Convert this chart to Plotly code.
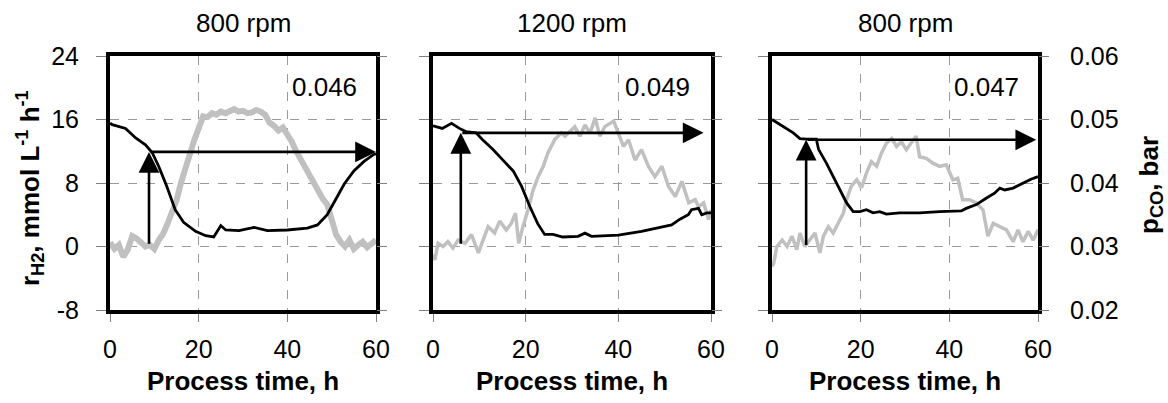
import plotly.graph_objects as go

# ---------------- data ----------------
panel_titles = ["800 rpm", "1200 rpm", "800 rpm"]
kla_labels = ["0.046", "0.049", "0.047"]

# grey: r_H2 (left axis, mmol L-1 h-1)
t1_rh2 = list(range(0, 61))
rh2_1 = [0.5, -0.3, 0.2, -1.3, -0.4, 1.3, 1.0, 0.6, 0.0, 0.2, -0.3, 0.8, 1.6, 2.9, 4.2,
         5.8, 8.0, 10.1, 11.6, 13.4, 15.2, 16.4, 16.3, 16.8, 16.6, 17.0, 16.8, 17.1, 17.3,
         17.0, 17.1, 16.8, 16.9, 17.2, 17.0, 16.6, 15.6, 15.2, 14.6, 15.0, 14.2, 13.2, 12.0,
         11.0, 10.0, 9.0, 7.8, 7.0, 6.0, 5.3, 3.0, 1.5, 0.6, 0.0, 0.8, -0.3, 0.2, 0.6, -0.1,
         0.3, 0.8]

t2_rh2 = [0, 0.4, 1.1, 2.2, 3.2, 4.3, 5.4, 6.9, 8.3, 9.8, 10.8, 11.9, 13.3, 14.4, 15.8,
          16.9, 17.8, 18.5, 19.4, 20.5, 21.6, 22.7, 23.8, 24.8, 26.3, 27.7, 28.5, 29.5, 30.6,
          31.7, 32.8, 33.9, 35, 36, 37.1, 39, 40, 41.1, 42.2, 43.6, 45, 46.5, 47.9, 49.4,
          50.8, 52.3, 53.7, 55.2, 56.6, 57.3, 58.4, 59.5, 60]
rh2_2 = [-1.0, -1.7, 0.4, 0.0, 0.6, -0.2, 0.8, 0.4, 1.5, -0.8, 0.8, 2.5, 1.7, 3.2, 2.1,
         2.9, 4.2, 0.4, 2.5, 4.6, 7.1, 8.8, 10.1, 11.8, 13.5, 14.3, 13.9, 14.5, 15.1, 13.9,
         15.3, 14.3, 16.2, 13.9, 15.1, 15.8, 14.3, 12.6, 13.45, 10.9, 12.2, 10.1, 8.8, 10.1,
         7.6, 6.3, 8.2, 5.5, 5.9, 5.0, 5.5, 3.4, 4.6]

t3_rh2 = [0, 0.4, 1.1, 2.3, 3.4, 4.5, 5.6, 6.3, 7.4, 8.6, 9.7, 10.8, 11.6, 12.7, 13.8,
          14.9, 16.1, 16.8, 17.9, 19.1, 20.2, 21.3, 22.4, 23.6, 24.7, 25.8, 27.0, 28.1, 29.2,
          30.3, 31.8, 32.5, 33.3, 34.8, 36.3, 37.8, 39.3, 40.8, 41.9, 43.0, 44.5, 46.1, 47.6,
          48.7, 49.9, 51.4, 52.9, 54.4, 55.5, 56.6, 57.8, 58.9, 60]
rh2_3 = [-2.5, -2.1, 0.0, 0.8, 0.0, 1.3, -0.4, 1.7, 0.0, 0.8, 1.7, -0.8, 1.3, 2.5, 1.7,
         2.9, 4.2, 5.9, 7.6, 8.4, 7.4, 9.25, 10.7, 10.1, 11.8, 13.0, 13.6, 12.6, 13.2, 12.2,
         13.45, 13.9, 11.3, 11.1, 10.5, 10.1, 10.3, 8.4, 8.6, 5.9, 5.9, 5.5, 4.6, 1.3, 2.9,
         2.5, 2.1, 0.6, 2.1, 0.6, 1.9, 0.8, 2.1]

# black: p_CO (right axis, bar)
t1_pco = [0, 0.5, 3.5, 5.8, 8, 9.5, 11, 12.8, 14.7, 16.6, 19.3, 21.6, 23.4, 24.2, 25,
          26.1, 29.1, 32.5, 35.5, 40, 44.5, 46.8, 49, 50.9, 52.8, 55, 57.3, 59.5, 60]
pco_1 = [0.0494, 0.0492, 0.0486, 0.0471, 0.0460, 0.0448, 0.0426, 0.0395, 0.0358, 0.0338,
         0.0324, 0.0317, 0.0315, 0.0324, 0.0333, 0.0326, 0.0325, 0.0330, 0.0325, 0.0326,
         0.0329, 0.0334, 0.0350, 0.0374, 0.0398, 0.0419, 0.0434, 0.0445, 0.0446]

t2_pco = [0, 2, 4, 5.7, 7.1, 9.3, 10.7, 12.9, 15.1, 17.3, 19.1, 20.9, 22.6, 24.1, 25.9,
          28, 31.3, 32.8, 34.2, 40, 45, 48.6, 51.5, 53.3, 55.1, 55.8, 57.3, 58, 59.1, 60]
pco_2 = [0.0490, 0.0486, 0.0494, 0.0486, 0.0481, 0.0479, 0.0468, 0.0453, 0.0436, 0.0419,
         0.0395, 0.0363, 0.0336, 0.0319, 0.0319, 0.0315, 0.0316, 0.0321, 0.0316, 0.0318,
         0.0324, 0.0329, 0.0334, 0.0343, 0.0350, 0.0358, 0.0360, 0.0350, 0.0353, 0.0353]

t3_pco = [0, 2.6, 4.8, 6.3, 7.8, 10.0, 10.5, 12.3, 13.8, 15.3, 16.8, 18.3, 19.8, 21.3,
          22.8, 24.3, 25.8, 28.8, 33.3, 37.8, 42.7, 43.8, 46.1, 48.3, 50.2, 51.4, 52.5,
          54.4, 56.6, 58.4, 60]
pco_3 = [0.0500, 0.0489, 0.0479, 0.0470, 0.0469, 0.0469, 0.0453, 0.0431, 0.0410, 0.0389,
         0.0369, 0.0355, 0.0355, 0.0358, 0.0353, 0.0355, 0.0351, 0.0353, 0.0353, 0.0355,
         0.0356, 0.0360, 0.0366, 0.0376, 0.0384, 0.0392, 0.0389, 0.0392, 0.0400, 0.0406,
         0.0410]

# arrows: onset time, p_CO level (bar), arrow base level, arrow end time
arrow_t = [8.8, 6.0, 7.7]
arrow_p = [0.0449, 0.0479, 0.0468]
arrow_base_p = [0.0302, 0.0302, 0.0300]
arrow_end_t = [60, 58.4, 59.6]

x_ticks = [0, 20, 40, 60]
y_left_ticks = [-8, 0, 8, 16, 24]
y_left_text = ["-8", "0", "8", "16", "24"]
y_right_ticks = [0.02, 0.03, 0.04, 0.05, 0.06]

# ---------------- figure ----------------
W, H = 1168, 403
FONT = "Liberation Sans, Arial, sans-serif"
GREY = "#c0c0c0"
GRID = "#9a9a9a"
TICKC = "#808080"

x_dom = [(110, 376), (433, 711), (772, 1038)]
y_dom = (1 - 310 / H, 1 - 56 / H)

series = [(t1_rh2, rh2_1, t1_pco, pco_1, 6),
          (t2_rh2, rh2_2, t2_pco, pco_2, 3.5),
          (t3_rh2, rh2_3, t3_pco, pco_3, 3.5)]

fig = go.Figure()
layout = dict(
    template="none",
    width=W, height=H, margin=dict(l=0, r=0, t=0, b=0, pad=0),
    paper_bgcolor="white", plot_bgcolor="white", showlegend=False,
    font=dict(family=FONT, size=25, color="black"),
)

for i, (tg, vg, tb, vb, gw) in enumerate(series):
    n = i + 1
    xs = "" if n == 1 else str(n)
    yl = 2 * i + 1
    yr = 2 * i + 2
    yl_s = "" if yl == 1 else str(yl)
    xname = "x" + xs
    ylname = "y" + yl_s
    yrname = "y" + str(yr)

    fig.add_trace(go.Scatter(x=tg, y=vg, mode="lines", xaxis=xname, yaxis=ylname,
                             line=dict(color=GREY, width=gw), name="r_H2"))
    fig.add_trace(go.Scatter(x=tb, y=vb, mode="lines", xaxis=xname, yaxis=yrname,
                             line=dict(color="black", width=2.8), name="p_CO"))

    # vertical arrow (onset) and horizontal arrow (level)
    fig.add_annotation(x=arrow_t[i], y=arrow_p[i], ax=arrow_t[i], ay=arrow_base_p[i],
                       xref=xname, yref=yrname, axref=xname, ayref=yrname,
                       text="", showarrow=True, arrowhead=2, arrowsize=1.6,
                       arrowwidth=2.6, arrowcolor="black", standoff=0)
    fig.add_annotation(x=arrow_end_t[i], y=arrow_p[i], ax=arrow_t[i], ay=arrow_p[i],
                       xref=xname, yref=yrname, axref=xname, ayref=yrname,
                       text="", showarrow=True, arrowhead=2, arrowsize=1.6,
                       arrowwidth=2.6, arrowcolor="black", standoff=0)

    layout["xaxis" + xs] = dict(
        domain=[x_dom[i][0] / W, x_dom[i][1] / W], anchor=ylname, automargin=False,
        range=[0, 60], tickvals=x_ticks, ticks="outside", ticklen=8, tickcolor=TICKC,
        tickwidth=1, showline=True, linecolor="black", linewidth=4, mirror=True,
        showgrid=True, gridcolor=GRID, griddash="dash", gridwidth=1,
        zeroline=False, tickfont=dict(size=25), ticklabelstandoff=6,
    )
    layout["yaxis" + yl_s] = dict(
        domain=list(y_dom), anchor=xname, automargin=False,
        range=[-8, 24], tickvals=y_left_ticks, ticktext=y_left_text, ticks="outside",
        ticklen=10, tickcolor=TICKC, tickwidth=1, showline=True, linecolor="black",
        linewidth=4, mirror=True, showgrid=True, gridcolor=GRID, griddash="dash",
        gridwidth=1, zeroline=False, showticklabels=(i == 0), tickfont=dict(size=25),
        ticklabelstandoff=12,
    )
    layout["yaxis" + str(yr)] = dict(
        overlaying=ylname, anchor=xname, side="right", automargin=False,
        range=[0.02, 0.06], tickvals=y_right_ticks, tickformat=".2f",
        ticks="outside", ticklen=10, tickcolor=TICKC, tickwidth=1,
        showline=False, showgrid=False, zeroline=False,
        showticklabels=(i == 2), tickfont=dict(size=25), ticklabelstandoff=16,
    )

    # panel title
    fig.add_annotation(text=panel_titles[i], xref=xname + " domain", x=0.5,
                       yref="paper", y=1 - 23 / H, showarrow=False,
                       font=dict(size=26), xanchor="center", yanchor="middle")
    # value label
    fig.add_annotation(text=kla_labels[i], xref=xname, x=48.4, yref=ylname, y=20.1,
                       showarrow=False, font=dict(size=26), xanchor="center",
                       yanchor="middle")
    # x axis title
    fig.add_annotation(text="<b>Process time, h</b>", xref=xname + " domain", x=0.5,
                       yref="paper", y=1 - 381 / H, showarrow=False,
                       font=dict(size=26), xanchor="center", yanchor="middle")

# y axis titles
fig.add_annotation(text="<b>r<sub>H2</sub>, mmol L<sup>-1</sup> h<sup>-1</sup></b>",
                   xref="paper", x=30 / W, yref="paper", y=1 - 188 / H, textangle=-90,
                   showarrow=False, font=dict(size=26), xanchor="center",
                   yanchor="middle")
fig.add_annotation(text="<b>p<sub>CO</sub>, bar</b>",
                   xref="paper", x=1150 / W, yref="paper", y=1 - 185 / H, textangle=-90,
                   showarrow=False, font=dict(size=26), xanchor="center",
                   yanchor="middle")

fig.update_layout(**layout)
fig.write_html("out.html",
               config={"displayModeBar": False},
               post_script="document.body.style.margin='0';"
                           "document.body.style.padding='0';")
